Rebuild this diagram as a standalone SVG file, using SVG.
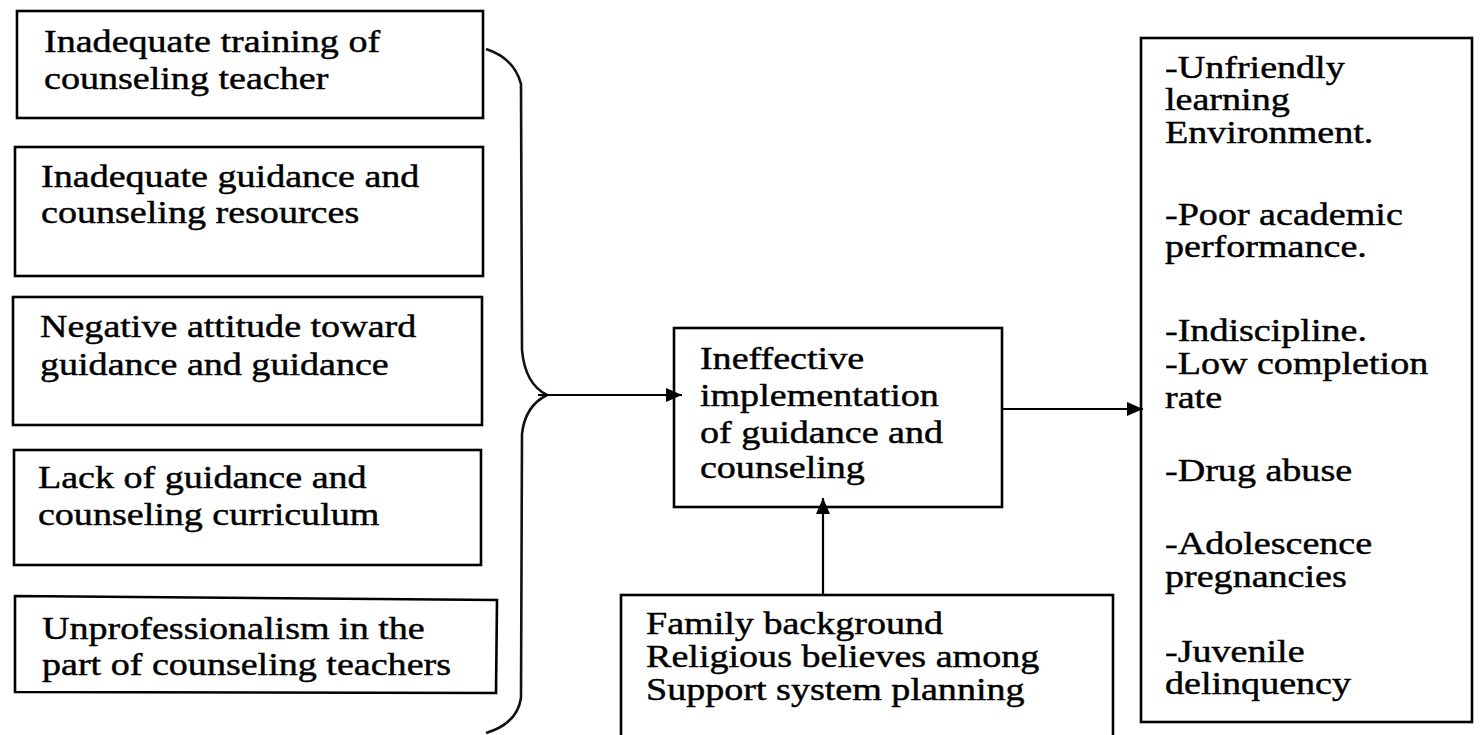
<svg xmlns="http://www.w3.org/2000/svg" width="1483" height="735" viewBox="0 0 1483 735">
<style>
  .box { fill: #fff; stroke: #000; stroke-width: 2.6; }
  .t { font-family: "Liberation Serif", "Times New Roman", serif; font-size: 32px; fill: #000; stroke: #000; stroke-width: 0.45; }
  .con { stroke: #000; stroke-width: 2.2; fill: none; }
  .brace { stroke: #111; stroke-width: 2.6; fill: none; }
</style>
<defs>
  <marker id="ah" markerUnits="userSpaceOnUse" markerWidth="16" markerHeight="14" refX="16" refY="7" orient="auto">
    <path d="M0,0 L16,7 L0,14 z" fill="#000"/>
  </marker>
</defs>
<rect width="1483" height="735" fill="#fff"/>

<g id="box-training">
  <rect class="box" x="17" y="11" width="466" height="107"/>
  <g transform="scale(1.19,1)">
    <text class="t" x="37.0" y="52">Inadequate training of</text>
    <text class="t" x="37.0" y="89">counseling teacher</text>
  </g>
</g>

<g id="box-resources">
  <rect class="box" x="15" y="147" width="468" height="129"/>
  <g transform="scale(1.19,1)">
    <text class="t" x="34.5" y="187">Inadequate guidance and</text>
    <text class="t" x="34.5" y="223">counseling resources</text>
  </g>
</g>

<g id="box-attitude">
  <rect class="box" x="13" y="297" width="469" height="128"/>
  <g transform="scale(1.19,1)">
    <text class="t" x="33.6" y="337">Negative attitude toward</text>
    <text class="t" x="33.6" y="375">guidance and guidance</text>
  </g>
</g>

<g id="box-curriculum">
  <rect class="box" x="14" y="450" width="467" height="115"/>
  <g transform="scale(1.19,1)">
    <text class="t" x="31.9" y="488">Lack of guidance and</text>
    <text class="t" x="31.9" y="525">counseling curriculum</text>
  </g>
</g>

<g id="box-unprofessionalism">
  <polygon class="box" points="15,596 497,600 496,693 15,692"/>
  <g transform="scale(1.19,1)">
    <text class="t" x="35.3" y="639">Unprofessionalism in the</text>
    <text class="t" x="35.3" y="675">part of counseling teachers</text>
  </g>
</g>

<g id="box-ineffective">
  <rect class="box" x="674" y="328" width="328" height="179"/>
  <g transform="scale(1.19,1)">
    <text class="t" x="588.2" y="369">Ineffective</text>
    <text class="t" x="588.2" y="406">implementation</text>
    <text class="t" x="588.2" y="443">of guidance and</text>
    <text class="t" x="588.2" y="478">counseling</text>
  </g>
</g>

<g id="box-family">
  <rect class="box" x="621" y="595" width="492" height="160"/>
  <g transform="scale(1.19,1)">
    <text class="t" x="542.9" y="634">Family background</text>
    <text class="t" x="542.9" y="667">Religious believes among</text>
    <text class="t" x="542.9" y="700">Support system planning</text>
  </g>
</g>

<g id="box-effects">
  <rect class="box" x="1141" y="38" width="331" height="684"/>
  <g transform="scale(1.19,1)">
    <text class="t" x="979.0" y="78">-Unfriendly</text>
    <text class="t" x="979.0" y="110">learning</text>
    <text class="t" x="979.0" y="143">Environment.</text>
    <text class="t" x="979.0" y="225">-Poor academic</text>
    <text class="t" x="979.0" y="257">performance.</text>
    <text class="t" x="979.0" y="341">-Indiscipline.</text>
    <text class="t" x="979.0" y="374">-Low completion</text>
    <text class="t" x="979.0" y="408">rate</text>
    <text class="t" x="979.0" y="481">-Drug abuse</text>
    <text class="t" x="979.0" y="554">-Adolescence</text>
    <text class="t" x="979.0" y="587">pregnancies</text>
    <text class="t" x="979.0" y="662">-Juvenile</text>
    <text class="t" x="979.0" y="694">delinquency</text>
  </g>
</g>

<g id="connectors">
  <path class="brace" d="M486,49 Q514,58 521,84 L522,350 Q525,384 547,395 Q525,406 522,434 L521,698 Q517,724 486,733"/>
  <line class="con" x1="538" y1="395" x2="682" y2="395" marker-end="url(#ah)"/>
  <line class="con" x1="1002" y1="409" x2="1143" y2="409" marker-end="url(#ah)"/>
  <line class="con" x1="823" y1="595" x2="823" y2="498" marker-end="url(#ah)"/>
</g>
</svg>
